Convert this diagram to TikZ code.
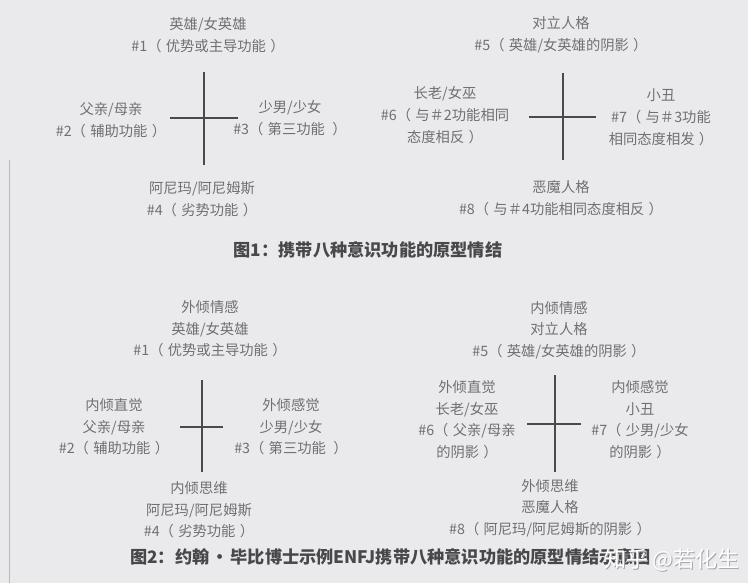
\documentclass[tikz,border=0pt]{standalone}
\usepackage{fontspec}
\setmainfont{Noto Sans CJK SC}
\definecolor{bgc}{HTML}{EAEAEC}
\definecolor{txc}{HTML}{707072}
\definecolor{capc}{HTML}{48484A}
\definecolor{lnc}{HTML}{4A4A4C}
\newcommand\myLP{（\hspace{0.3em}}
\newcommand\myRP{\hspace{0.3em}）}
\tikzset{
  lbl/.style={text=txc, font=\fontsize{14.3}{21.5}\selectfont, align=center, inner sep=0pt},
  lblA/.style={lbl, font=\fontsize{14.3}{22}\selectfont},
  capn/.style={text=capc, font=\fontsize{17.2}{19}\selectfont\bfseries, inner sep=0pt},
  crossln/.style={draw=lnc, line width=1.3pt},
  wmark/.style={font=\fontsize{22}{24}\selectfont, inner sep=0pt, anchor=east},
}
\begin{document}
\begin{tikzpicture}[x=1pt,y=-1pt]
\fill[bgc] (0,0) rectangle (748,583);
\useasboundingbox (0,0) rectangle (748,583);
% scan edge
\coordinate (e1) at (9,160);
\coordinate (e2) at (9,583);
\draw[gray!55, line width=1pt] (e1) -- (e2);

% ---------- Figure 1 ----------
\node[lblA] (n1) at (208,35) {英雄/女英雄\\\#1\myLP 优势或主导功能\myRP};
\node[lblA] (n2) at (111,120) {父亲/母亲\\\#2\myLP 辅助功能\myRP};
\node[lblA] (n3) at (290,118) {少男/少女\\\#3\myLP 第三功能 \myRP};
\node[lblA] (n4) at (202,199.5) {阿尼玛/阿尼姆斯\\\#4\myLP 劣势功能\myRP};
\coordinate (c1t) at (204,72);
\coordinate (c1b) at (204,165);
\coordinate (c1l) at (170,118);
\coordinate (c1r) at (238,118);
\draw[crossln] (c1t) -- (c1b);
\draw[crossln] (c1l) -- (c1r);

\node[lblA] (n5) at (561,35) {对立人格\\\#5\myLP 英雄/女英雄的阴影\myRP};
\node[lblA] (n6) at (445,115) {长老/女巫\\\#6\myLP 与＃2功能相同\\态度相反\myRP};
\node[lblA] (n7) at (661,117) {小丑\\\#7\myLP 与＃3功能\\相同态度相发\myRP};
\node[lblA] (n8) at (561,198.5) {恶魔人格\\\#8\myLP 与＃4功能相同态度相反\myRP};
\coordinate (c2t) at (563,73);
\coordinate (c2b) at (563,160);
\coordinate (c2l) at (529,117);
\coordinate (c2r) at (596,117);
\draw[crossln] (c2t) -- (c2b);
\draw[crossln] (c2l) -- (c2r);

\node[capn] (cap1) at (368,250) {图1：携带八种意识功能的原型情结};

% ---------- Figure 2 ----------
\node[lbl] (m1) at (210,329) {外倾情感\\英雄/女英雄\\\#1\myLP 优势或主导功能\myRP};
\node[lbl] (m2) at (114,427) {内倾直觉\\父亲/母亲\\\#2\myLP 辅助功能\myRP};
\node[lbl] (m3) at (291,427) {外倾感觉\\少男/少女\\\#3\myLP 第三功能 \myRP};
\node[lbl] (m4) at (199,510) {内倾思维\\阿尼玛/阿尼姆斯\\\#4\myLP 劣势功能\myRP};
\coordinate (c3t) at (202,380);
\coordinate (c3b) at (202,472);
\coordinate (c3l) at (180,427);
\coordinate (c3r) at (223,427);
\draw[crossln] (c3t) -- (c3b);
\draw[crossln] (c3l) -- (c3r);

\node[lbl] (m5) at (559,330) {内倾情感\\对立人格\\\#5\myLP 英雄/女英雄的阴影\myRP};
\node[lbl] (m6) at (467,419.5) {外倾直觉\\长老/女巫\\\#6\myLP 父亲/母亲\\的阴影\myRP};
\node[lbl] (m7) at (640,419.5) {内倾感觉\\小丑\\\#7\myLP 少男/少女\\的阴影\myRP};
\node[lbl] (m8) at (550,508) {外倾思维\\恶魔人格\\\#8\myLP 阿尼玛/阿尼姆斯的阴影\myRP};
\coordinate (c4t) at (555,375);
\coordinate (c4b) at (555,472);
\coordinate (c4l) at (527,424);
\coordinate (c4r) at (581,424);
\draw[crossln] (c4t) -- (c4b);
\draw[crossln] (c4l) -- (c4r);

\node[capn, anchor=west] (cap2) at (130,557) {图2：约翰\hspace{0.12em}·\hspace{0.12em}毕比博士示例ENFJ携带八种意识功能的原型情结示意图};

% watermark
\node[wmark, text=gray!70] (wms) at (741,561) {知乎 @若化生};
\node[wmark, text=white] (wm) at (740,560) {知乎 @若化生};
\end{tikzpicture}
\end{document}
